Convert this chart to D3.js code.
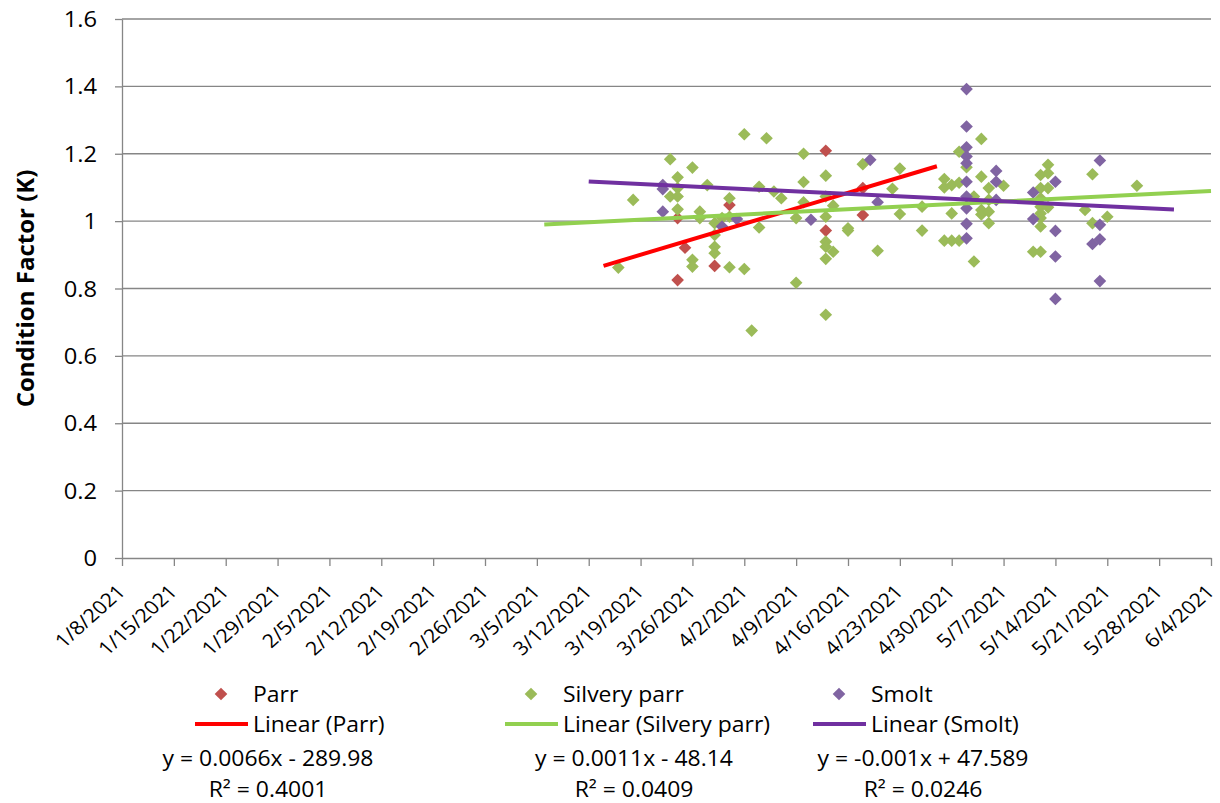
<!DOCTYPE html>
<html>
<head>
<meta charset="utf-8">
<script src="https://cdn.jsdelivr.net/npm/d3@7"></script>
<style>
  html, body { margin: 0; padding: 0; background: #fff; }
  svg { display: block; font-family: 'Open Sans', sans-serif; }
</style>
</head>
<body>
<svg id="chart" width="1220" height="803"></svg>
<script>
// ---- Data: condition factor (K) by sampling date ----
const seriesNames = ["Parr", "Silvery parr", "Smolt"];

const parrDates = ["3/24/2021","3/25/2021","3/24/2021","3/29/2021","3/31/2021","4/13/2021","4/13/2021","4/18/2021","4/18/2021"];
const parrValues = [0.825, 0.921, 1.009, 0.867, 1.048, 1.209, 0.972, 1.098, 1.018];

const silveryDates = [
  "3/16/2021","3/18/2021","3/23/2021","3/23/2021","3/24/2021","3/24/2021","3/24/2021","3/24/2021",
  "3/26/2021","3/26/2021","3/26/2021","3/27/2021","3/27/2021","3/28/2021","3/29/2021","3/29/2021",
  "3/29/2021","3/29/2021","3/30/2021","3/31/2021","3/31/2021","3/31/2021","4/2/2021","4/2/2021",
  "4/3/2021","4/4/2021","4/4/2021","4/5/2021","4/6/2021","4/7/2021","4/9/2021","4/9/2021",
  "4/10/2021","4/10/2021","4/10/2021","4/13/2021","4/13/2021","4/13/2021","4/13/2021","4/13/2021",
  "4/13/2021","4/13/2021","4/14/2021","4/14/2021","4/16/2021","4/16/2021","4/18/2021","4/20/2021",
  "4/22/2021","4/23/2021","4/23/2021","4/26/2021","4/26/2021","4/29/2021","4/29/2021","4/29/2021",
  "4/30/2021","4/30/2021","4/30/2021","5/1/2021","5/1/2021","5/1/2021","5/2/2021","5/3/2021",
  "5/3/2021","5/4/2021","5/4/2021","5/4/2021","5/4/2021","5/5/2021","5/5/2021","5/5/2021",
  "5/5/2021","5/7/2021","5/11/2021","5/12/2021","5/12/2021","5/12/2021","5/12/2021","5/12/2021",
  "5/12/2021","5/12/2021","5/12/2021","5/13/2021","5/13/2021","5/13/2021","5/13/2021","5/18/2021",
  "5/19/2021","5/19/2021","5/21/2021","5/25/2021"
];
const silveryValues = [
  0.862, 1.063, 1.184, 1.073, 1.130, 1.098, 1.073, 1.035,
  1.159, 0.885, 0.865, 1.028, 1.009, 1.107, 0.994, 0.959,
  0.924, 0.905, 1.009, 1.068, 1.013, 0.863, 1.258, 0.858,
  0.675, 1.102, 0.981, 1.246, 1.088, 1.068, 1.009, 0.817,
  1.200, 1.116, 1.056, 1.135, 1.073, 1.013, 0.939, 0.924,
  0.888, 0.722, 1.046, 0.909, 0.979, 0.972, 1.169, 0.912,
  1.096, 1.156, 1.021, 1.043, 0.972, 1.125, 1.100, 0.942,
  1.107, 1.023, 0.942, 1.206, 1.114, 0.942, 1.160, 1.073,
  0.880, 1.244, 1.132, 1.033, 1.020, 1.098, 1.028, 0.994,
  1.063, 1.105, 0.909, 1.137, 1.098, 1.068, 1.043, 1.023,
  1.009, 0.984, 0.909, 1.167, 1.142, 1.098, 1.041, 1.033,
  1.139, 0.994, 1.013, 1.105
];

const smoltDates = [
  "3/22/2021","3/22/2021","3/22/2021","3/30/2021","4/1/2021","4/11/2021","4/19/2021","4/20/2021",
  "5/2/2021","5/2/2021","5/2/2021","5/2/2021","5/2/2021","5/2/2021","5/2/2021","5/2/2021",
  "5/2/2021","5/2/2021","5/6/2021","5/6/2021","5/6/2021","5/11/2021","5/11/2021","5/14/2021",
  "5/14/2021","5/14/2021","5/14/2021","5/20/2021","5/20/2021","5/20/2021","5/19/2021","5/20/2021"
];
const smoltValues = [
  1.107, 1.095, 1.028, 0.984, 1.006, 1.004, 1.182, 1.056,
  1.392, 1.281, 1.219, 1.192, 1.172, 1.117, 1.073, 1.038,
  0.992, 0.949, 1.149, 1.117, 1.063, 1.085, 1.006, 1.117,
  0.971, 0.895, 0.769, 1.180, 0.989, 0.946, 0.932, 0.822
];

// Linear trendlines (x = Excel serial date), forecast 10 days both ways
const trendSlopes = [0.00657, 0.00111, -0.0010498];
const trendIntercepts = [-289.98, -48.14, 47.589];
const trendR2 = [0.4001, 0.0409, 0.0246];
const forecastDays = 10;

// Axes
const yTicks = [0, 0.2, 0.4, 0.6, 0.8, 1, 1.2, 1.4, 1.6];
const xFirstTick = "1/8/2021";
const xLastTick = "6/4/2021";
const yTitle = "Condition Factor (K)";

// ---- Styling ----
const markerColors = ["#C0504D", "#9BBB59", "#8064A2"];
const lineColors = ["#FF0000", "#92D050", "#7030A0"];
const axisColor = "#868686";

const parseDate = d3.utcParse("%m/%d/%Y");
const serialOf = d => (d - Date.UTC(1899, 11, 30)) / 864e5;

const series = [
  { dates: parrDates, values: parrValues },
  { dates: silveryDates, values: silveryValues },
  { dates: smoltDates, values: smoltValues }
].map((s, i) => ({
  name: seriesNames[i],
  points: s.dates.map((d, j) => ({ date: parseDate(d), k: s.values[j] })),
  slope: trendSlopes[i],
  intercept: trendIntercepts[i],
  r2: trendR2[i],
  marker: markerColors[i],
  line: lineColors[i]
}));

const plot = { left: 122, right: 1211, top: 19, bottom: 558 };
const svg = d3.select("#chart");

const xMin = parseDate(xFirstTick), xMax = parseDate(xLastTick);
const x = d3.scaleUtc().domain([xMin, xMax]).range([plot.left, plot.right]);
const y = d3.scaleLinear().domain([0, 1.6]).range([plot.bottom, plot.top]);

// Horizontal gridlines
svg.append("g")
  .selectAll("line")
  .data(yTicks.filter(t => t > 0))
  .join("line")
  .attr("x1", plot.left).attr("x2", plot.right)
  .attr("y1", d => y(d)).attr("y2", d => y(d))
  .attr("stroke", axisColor).attr("stroke-width", 1.3);

// Y axis
const yAxis = svg.append("g")
  .attr("transform", `translate(${plot.left},0)`)
  .call(d3.axisLeft(y).tickValues(yTicks).tickSize(7).tickSizeOuter(0).tickFormat(d => String(d)));
yAxis.select(".domain").attr("stroke", axisColor).attr("stroke-width", 1.3);
yAxis.selectAll(".tick line").attr("stroke", axisColor).attr("stroke-width", 1.3);
yAxis.selectAll(".tick text")
  .attr("x", 0).attr("dy", "0.36em")
  .attr("text-anchor", "end")
  .attr("transform", "translate(-25,0) scale(1.13,1)")
  .attr("font-family", "'Open Sans', sans-serif")
  .attr("font-size", 21).attr("fill", "#000");

// X axis with weekly ticks
const weekTicks = d3.utcDay.range(xMin, d3.utcDay.offset(xMax, 1), 7);
const xAxis = svg.append("g")
  .attr("transform", `translate(0,${plot.bottom})`)
  .call(d3.axisBottom(x).tickValues(weekTicks).tickSize(8).tickSizeOuter(0)
    .tickFormat(d3.utcFormat("%-m/%-d/%Y")));
xAxis.select(".domain").attr("stroke", axisColor).attr("stroke-width", 1.3);
xAxis.selectAll(".tick line").attr("stroke", axisColor).attr("stroke-width", 1.3);
xAxis.selectAll(".tick text")
  .attr("x", 0).attr("y", 0).attr("dy", 0)
  .attr("text-anchor", "end")
  .attr("transform", "translate(4,35) scale(1.12,1) rotate(-45)")
  .attr("font-family", "'Open Sans', sans-serif")
  .attr("font-size", 19).attr("fill", "#000");

// Y axis title
svg.append("text")
  .attr("transform", `translate(34,${(plot.top + plot.bottom) / 2}) rotate(-90)`)
  .attr("text-anchor", "middle")
  .attr("font-weight", "bold")
  .attr("font-size", 24)
  .attr("fill", "#000")
  .text(yTitle);

// Diamond markers
const diamond = d3.symbol().type(d3.symbolSquare).size(80);
series.forEach(s => {
  svg.append("g")
    .selectAll("path")
    .data(s.points)
    .join("path")
    .attr("d", diamond)
    .attr("transform", d => `translate(${x(d.date)},${y(d.k)}) rotate(45)`)
    .attr("fill", s.marker);
});

// Trendlines
const trendLine = d3.line().x(d => x(d.date)).y(d => y(d.k));
series.forEach(s => {
  const [d0, d1] = d3.extent(s.points, p => p.date);
  const start = d3.max([xMin, d3.utcDay.offset(d0, -forecastDays)]);
  const end = d3.min([xMax, d3.utcDay.offset(d1, forecastDays)]);
  const ends = [start, end].map(d => ({ date: d, k: s.slope * serialOf(d) + s.intercept }));
  svg.append("path")
    .datum(ends)
    .attr("d", trendLine)
    .attr("fill", "none")
    .attr("stroke", s.line)
    .attr("stroke-width", 4);
});

// Legend
const fmtSlope = d3.format(".2~");
const fmtInt = d3.format(".5~");
const legendTextX = [253, 563, 871];
const legendEqX = [268, 634, 923];
const rowBase = [702, 732, 766, 797];
const legendFont = 21.5, legendStretch = 1.067;

function legendText(xPos, yPos, str, anchor) {
  svg.append("text")
    .attr("transform", `translate(${xPos},${yPos}) scale(${legendStretch},1)`)
    .attr("text-anchor", anchor)
    .attr("font-size", legendFont)
    .attr("fill", "#000")
    .text(str);
}

series.forEach((s, i) => {
  const tx = legendTextX[i];
  svg.append("path")
    .attr("d", diamond)
    .attr("transform", `translate(${tx - 32},${rowBase[0] - 8}) rotate(45)`)
    .attr("fill", s.marker);
  legendText(tx, rowBase[0], s.name, "start");

  svg.append("line")
    .attr("x1", tx - 58).attr("x2", tx - 5)
    .attr("y1", rowBase[1] - 8).attr("y2", rowBase[1] - 8)
    .attr("stroke", s.line).attr("stroke-width", 4);
  legendText(tx, rowBase[1], `Linear (${s.name})`, "start");

  const sign = s.intercept < 0 ? "-" : "+";
  const slopeStr = fmtSlope(s.slope).replace("\u2212", "-");
  legendText(legendEqX[i], rowBase[2], `y = ${slopeStr}x ${sign} ${fmtInt(Math.abs(s.intercept))}`, "middle");
  legendText(legendEqX[i], rowBase[3], `R\u00B2 = ${s.r2.toFixed(4)}`, "middle");
});
</script>
</body>
</html>
